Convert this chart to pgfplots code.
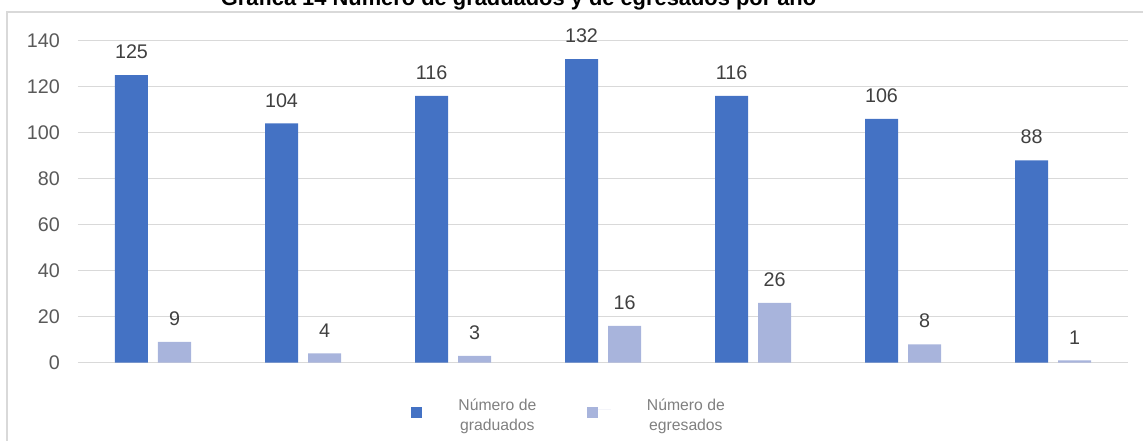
\documentclass[border=0pt]{standalone}
\usepackage{pgfplots}
\pgfplotsset{compat=1.18}
\usepackage{fontspec}
\setmainfont{Liberation Sans}

\definecolor{grad}{HTML}{4472C4}
\definecolor{egre}{HTML}{A8B4DC}
\definecolor{gridc}{HTML}{D9D9D9}
\definecolor{tickc}{HTML}{595959}
\definecolor{labc}{HTML}{404040}
\definecolor{legc}{HTML}{808080}

\begin{document}
\begin{tikzpicture}
  \begin{axis}[
      scale only axis,
      width=787.5pt, height=241.5pt,
      ybar=7.5pt, bar width=24.75pt,
      xmin=-0.5, xmax=6.5,
      ymin=0, ymax=140,
      xtick=\empty,
      ytick={0,20,...,140},
      ymajorgrids,
      grid style={gridc, line width=0.9pt},
      axis line style={draw=none},
      major tick length=0pt,
      clip=false,
      /pgf/number format/assume math mode=true,
      yticklabel style={font=\fontsize{14.8}{17}\selectfont, text=tickc, inner sep=0pt, xshift=-13.5pt},
      nodes near coords,
      nodes near coords style={font=\fontsize{14.8}{17}\selectfont, text=labc, inner sep=0pt, yshift=12pt},
      legend columns=2,
      legend style={draw=none, inner sep=0pt, outer sep=0pt,
        at={(0.3176,-0.145)}, anchor=west,
        font=\fontsize{11.8}{15}\selectfont, text=legc,
        /tikz/every odd column/.append style={column sep=25pt},
        /tikz/every even column/.append style={column sep=36pt}},
      legend image code/.code={\fill[#1, draw=none] (0pt,-6.7pt) rectangle (8.25pt,1.55pt);},
    ]
    \addplot[fill=grad, draw=none] coordinates {(0,125) (1,104) (2,116) (3,132) (4,116) (5,106) (6,88)};
    \addplot[fill=egre, draw=none,
      legend image code/.code={\fill[egre] (0pt,-6.7pt) rectangle (8.25pt,1.55pt);
        \path (0pt,0pt) -- (18pt,0pt);}]
      coordinates {(0,9) (1,4) (2,3) (3,16) (4,26) (5,8) (6,1)};
    \addlegendentry{\begin{tabular}{@{}c@{}}Número de\\graduados\end{tabular}}
    \addlegendentry{\begin{tabular}{@{}c@{}}Número de\\egresados\end{tabular}}
  \end{axis}
  % chart frame and title, cut by the page edge as in the source
  \draw[gridc, line width=0.9pt] (-53.25pt,-80pt) rectangle (820pt,263pt);
  \node[anchor=base, inner sep=0pt, font=\fontsize{16.4}{19}\selectfont\bfseries] at (330.4pt,267.9pt)
    {Gráfica 14 Número de graduados y de egresados por año};
  \pgfresetboundingbox
  \useasboundingbox (-58.5pt,-58pt) rectangle (798.75pt,272pt);
\end{tikzpicture}
\end{document}
